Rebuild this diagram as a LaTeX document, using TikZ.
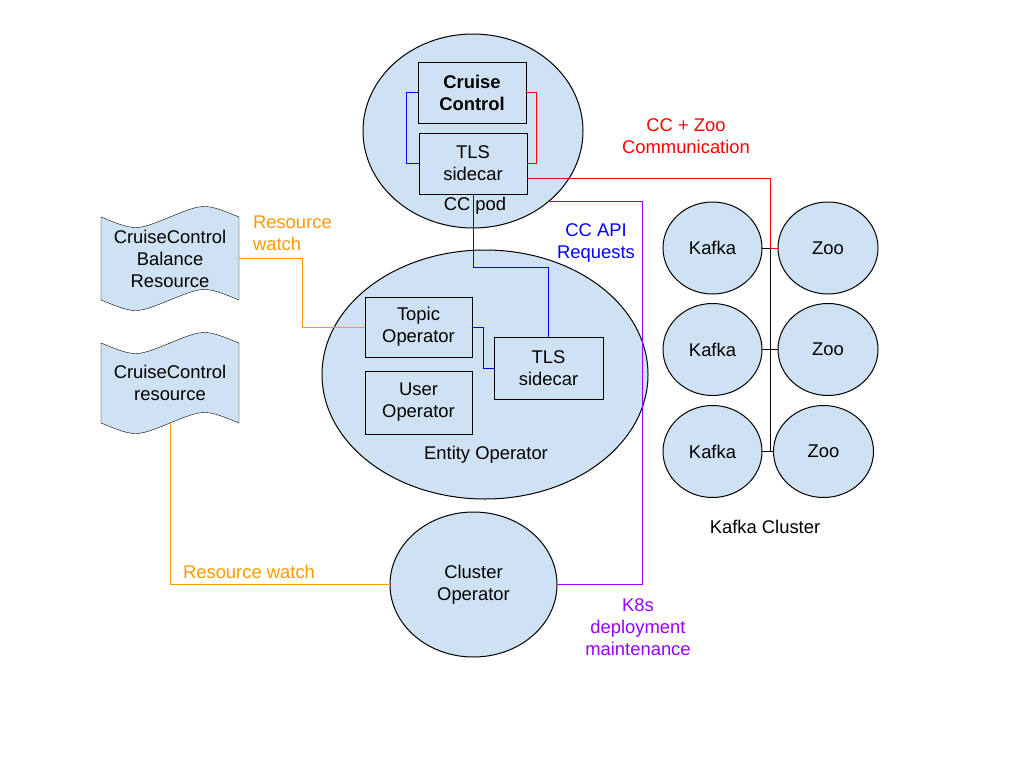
\documentclass[tikz,border=0pt]{standalone}
\usepackage{fontspec}
\setmainfont{Liberation Sans}
\usetikzlibrary{calc,backgrounds,shapes.geometric}
\definecolor{podfill}{HTML}{CFE2F3}
\definecolor{watchorange}{HTML}{FF9900}
\definecolor{k8spurple}{HTML}{9900FF}

\begin{document}
\begin{tikzpicture}[x=1pt, y=-1pt, line width=1pt,
        every node/.style={font=\fontsize{18.4}{22}\selectfont, align=center, inner sep=0pt, outer sep=0pt},
        pod/.style={ellipse, draw, fill=podfill},
        opbox/.style={rectangle, draw, fill=podfill},
        tapetext/.style={minimum width=138pt}]
        \useasboundingbox (0,0) rectangle (1024,768);

        % CC pod
        \node[pod, minimum width=220pt, minimum height=194pt] (ccpod) at (473,131) {};
        \node[opbox, minimum width=108pt, minimum height=61pt, font=\fontsize{18.4}{22}\selectfont\bfseries] (cc) at (472,92.5) {Cruise\\Control};
        \node[opbox, minimum width=108pt, minimum height=61pt] (tls1) at (473,163.5) {TLS\\sidecar};
        \node (lblpod) at (475,206) {CC pod};
        \draw[blue] (cc.west) -- ++(-12,0) |- (tls1.west);
        \draw[red] (cc.east) -- ++(10,0) |- (tls1.east);

        % Entity operator
        \node[pod, minimum width=326pt, minimum height=249pt] (entop) at (485,374.5) {};
        \node[opbox, minimum width=107pt, minimum height=60pt] (topicop) at (418.5,327) {Topic\\Operator};
        \node[opbox, minimum width=107pt, minimum height=63pt] (userop) at (418.5,402.5) {User\\Operator};
        \node[opbox, minimum width=109pt, minimum height=62pt] (tls2) at (548.5,368) {TLS\\sidecar};
        \node (lbleo) at (486,455) {Entity Operator};
        \draw[blue] (topicop.east) -- ++(11,0) |- (tls2.west);
        \draw[blue] (tls1.south) -- ++(0,73) -| (tls2.north);

        % Cluster operator
        \node[pod, minimum width=167pt, minimum height=145pt] (clusterop) at (473.5,584.5) {Cluster\\Operator};

        % Custom resources
        \node[tapetext, minimum height=83pt] (ccbr) at (170,258.5) {CruiseControl\\Balance\\Resource};
        \node[tapetext, minimum height=80pt] (ccr) at (170,383) {CruiseControl\\resource};
        \begin{scope}[on background layer]
            \foreach \t in {ccbr,ccr} {
                \filldraw[fill=podfill] (\t.north west)
                    .. controls ($(\t.north west)!.25!(\t.north east)+(0,14)$) .. (\t.north)
                    .. controls ($(\t.north west)!.75!(\t.north east)+(0,-14)$) .. (\t.north east)
                    -- (\t.south east)
                    .. controls ($(\t.south west)!.75!(\t.south east)+(0,-14)$) .. (\t.south)
                    .. controls ($(\t.south west)!.25!(\t.south east)+(0,14)$) .. (\t.south west)
                    -- cycle;
            }
        \end{scope}
        \draw[watchorange] (ccbr.east) -- ++(63,0) |- (topicop.west);
        \draw[watchorange] (ccr.south) |- (clusterop.west);
        \draw[k8spurple] (ccpod.-43) -- ++(94,0) |- (clusterop.east);

        % Kafka cluster
        \foreach \i/\y/\zx in {1/248/828, 2/349.5/828, 3/451.5/823.5} {
            \node[pod, minimum width=99pt, minimum height=92pt] (kafka\i) at (712.5,\y) {Kafka};
            \node[pod, minimum width=100pt, minimum height=92pt] (zoo\i) at (\zx,\y) {Zoo};
            \draw (kafka\i.east) -- (zoo\i.west);
        }
        \coordinate (bustop) at ($(kafka1.east)!.5!(zoo1.west)$);
        \draw (bustop) -- (bustop |- kafka3.east);
        \draw[red] ($(tls1.south east)!.25!(tls1.north east)$) -| (bustop) -- (zoo1.west);
        \node (lblcluster) at (765,527) {Kafka Cluster};

        % Connector labels
        \node[text=red] (lblzoo) at (686,136) {CC + Zoo\\Communication};
        \node[text=blue] (lblapi) at (596,243) {CC API\\Requests};
        \node[text=watchorange, anchor=west, align=left] (lblwatch) at (253,233) {Resource\\watch};
        \node[text=watchorange] (lblwatch2) at (249,572) {Resource watch};
        \node[text=k8spurple] (lblk8s) at (638,627) {K8s\\deployment\\maintenance};
\end{tikzpicture}
\end{document}
